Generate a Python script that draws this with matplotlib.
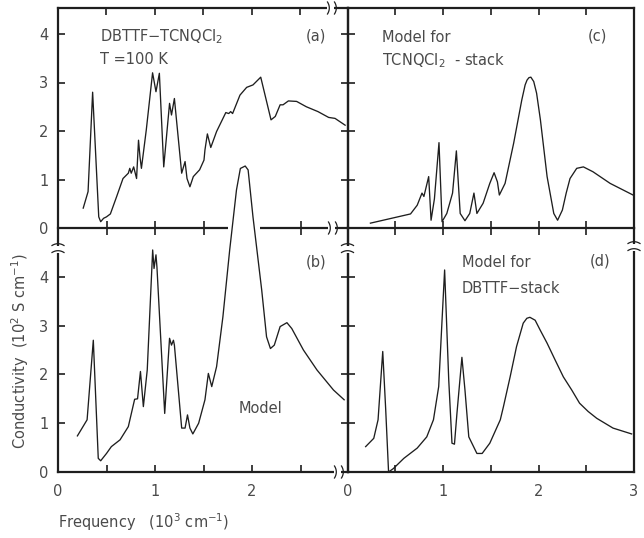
import numpy as np
import matplotlib
matplotlib.use("Agg")
import matplotlib.pyplot as plt
from matplotlib.patches import Rectangle

plt.rcParams['font.family'] = ['DejaVu Sans']
plt.rcParams['mathtext.default'] = 'regular'

# ---------------- data (frequency in 10^3 cm^-1, conductivity in 10^2 S/cm)
a_freq = [0.26, 0.31, 0.357, 0.42, 0.44, 0.47, 0.50, 0.54, 0.605, 0.67, 0.725, 0.74, 0.755, 0.78,
          0.81, 0.83, 0.845, 0.86, 0.91, 0.975, 1.01, 1.045, 1.09, 1.15, 1.17, 1.20, 1.275, 1.31,
          1.33, 1.36, 1.395, 1.46, 1.505, 1.515, 1.54, 1.575, 1.635, 1.73, 1.76, 1.78, 1.80, 1.876,
          1.945, 2.01, 2.09, 2.196, 2.24, 2.29, 2.32, 2.375, 2.46, 2.56, 2.68, 2.79, 2.856, 2.96]
a_cond = [0.41, 0.75, 2.80, 0.23, 0.13, 0.20, 0.23, 0.29, 0.65, 1.02, 1.13, 1.23, 1.13, 1.26,
          1.02, 1.81, 1.47, 1.23, 2.02, 3.20, 2.81, 3.19, 1.26, 2.57, 2.33, 2.67, 1.13, 1.37,
          1.02, 0.85, 1.06, 1.20, 1.40, 1.61, 1.94, 1.66, 1.99, 2.38, 2.36, 2.40, 2.36, 2.74,
          2.90, 2.95, 3.11, 2.23, 2.30, 2.54, 2.54, 2.62, 2.61, 2.50, 2.40, 2.28, 2.26, 2.12]

b_freq = [0.20, 0.30, 0.364, 0.415, 0.44, 0.50, 0.55, 0.64, 0.725, 0.79, 0.82, 0.85, 0.88, 0.92,
          0.976, 0.99, 1.01, 1.02, 1.10, 1.15, 1.17, 1.19, 1.20, 1.275, 1.31, 1.335, 1.36, 1.39,
          1.45, 1.515, 1.55, 1.585, 1.635, 1.70, 1.77, 1.84, 1.88, 1.93, 1.96, 2.01, 2.10, 2.15,
          2.19, 2.23, 2.29, 2.36, 2.41, 2.53, 2.67, 2.84, 2.95]
b_cond = [0.74, 1.07, 2.70, 0.28, 0.23, 0.38, 0.52, 0.66, 0.93, 1.49, 1.50, 2.06, 1.34, 2.09,
          4.55, 4.17, 4.45, 4.20, 1.20, 2.74, 2.60, 2.70, 2.60, 0.90, 0.90, 1.17, 0.90, 0.78,
          1.00, 1.48, 2.02, 1.75, 2.16, 3.18, 4.55, 5.78, 6.22, 6.27, 6.19, 5.23, 3.73, 2.77,
          2.53, 2.60, 2.98, 3.06, 2.94, 2.50, 2.09, 1.68, 1.48]

c_freq = [0.24, 0.66, 0.73, 0.78, 0.80, 0.85, 0.875, 0.91, 0.958, 0.99, 1.04, 1.10, 1.14, 1.18,
          1.23, 1.28, 1.324, 1.355, 1.42, 1.49, 1.535, 1.57, 1.59, 1.65, 1.74, 1.825, 1.86, 1.88,
          1.90, 1.92, 1.95, 1.98, 2.02, 2.09, 2.16, 2.20, 2.25, 2.29, 2.33, 2.40, 2.47, 2.57,
          2.75, 2.99]
c_cond = [0.10, 0.29, 0.47, 0.72, 0.65, 1.06, 0.16, 0.60, 1.76, 0.13, 0.30, 0.72, 1.59, 0.30,
          0.15, 0.30, 0.72, 0.30, 0.51, 0.92, 1.14, 0.95, 0.68, 0.92, 1.75, 2.64, 2.95, 3.05,
          3.10, 3.11, 3.02, 2.78, 2.23, 1.06, 0.30, 0.16, 0.37, 0.72, 1.02, 1.23, 1.26, 1.16,
          0.92, 0.68]

d_freq = [0.19, 0.275, 0.32, 0.369, 0.40, 0.43, 0.48, 0.59, 0.73, 0.83, 0.90, 0.955, 0.99, 1.017,
          1.06, 1.094, 1.12, 1.146, 1.198, 1.23, 1.27, 1.355, 1.41, 1.49, 1.60, 1.633, 1.703, 1.77,
          1.84, 1.878, 1.91, 1.965, 2.017, 2.09, 2.173, 2.26, 2.348, 2.43, 2.52, 2.61, 2.78, 2.975]
d_cond = [0.52, 0.69, 1.07, 2.47, 1.28, 0.00, 0.07, 0.28, 0.49, 0.72, 1.07, 1.75, 3.11, 4.14,
          1.89, 0.59, 0.57, 1.20, 2.35, 1.68, 0.72, 0.38, 0.38, 0.59, 1.07, 1.34, 1.95, 2.57,
          3.05, 3.15, 3.17, 3.11, 2.91, 2.64, 2.30, 1.95, 1.68, 1.41, 1.24, 1.10, 0.90, 0.78]

y_ticks = [0, 1, 2, 3, 4]
x_ticks_left = [0, 0.5, 1, 1.5, 2, 2.5]
x_labels_left = ['0', '', '1', '', '2', '']
x_ticks_right = [0, 0.5, 1, 1.5, 2, 2.5, 3]
x_labels_right = ['0', '', '1', '', '2', '', '3']

# ---------------- style
LINE = '#1e1e1e'
TEXT = '#4a4a4a'
SPINE_W = 1.6
FS = 10.5
TL = 5

W, H = 644, 538
fig = plt.figure(figsize=(W / 100, H / 100), dpi=100)
fig.patch.set_facecolor('white')

def fx(px):
    return px / W

def fy(py):
    return 1 - py / H

xl0, xl1, xr1 = 58, 347.5, 634
yb, ym, yt = 472, 228, 8

ax_b = fig.add_axes([fx(xl0), fy(yb), fx(xl1 - xl0), (yb - ym) / H])
ax_a = fig.add_axes([fx(xl0), fy(ym), fx(xl1 - xl0), (ym - yt) / H])
ax_d = fig.add_axes([fx(xl1), fy(yb), fx(xr1 - xl1), (yb - ym) / H])
ax_c = fig.add_axes([fx(xl1), fy(ym), fx(xr1 - xl1), (ym - yt) / H])

left_xmax = (xl1 - xl0) / 97.0
for ax in (ax_a, ax_b):
    ax.set_xlim(0, left_xmax)
for ax in (ax_c, ax_d):
    ax.set_xlim(0, 3.0)
for ax in (ax_a, ax_c):
    ax.set_ylim(0, (ym - yt) / 48.5)
for ax in (ax_b, ax_d):
    ax.set_ylim(0, 5.0)

for ax in (ax_a, ax_b, ax_c, ax_d):
    ax.patch.set_visible(False)
    for s in ax.spines.values():
        s.set_linewidth(SPINE_W)
        s.set_color(LINE)
    ax.tick_params(direction='in', length=TL, width=1.2, color=LINE,
                   labelsize=FS, labelcolor=TEXT)

# ---- curves
ax_a.plot(a_freq, a_cond, color=LINE, lw=0.95)
ax_b.plot(b_freq, b_cond, color=LINE, lw=0.95, clip_on=False, zorder=5)
ax_c.plot(c_freq, c_cond, color=LINE, lw=0.95)
ax_d.plot(d_freq, d_cond, color=LINE, lw=0.95)

# ---- panel (a)
ax_a.spines['bottom'].set_visible(False)
ax_a.plot([0, 1.755], [0, 0], color=LINE, lw=SPINE_W, clip_on=False, solid_capstyle='butt')
ax_a.plot([2.08, left_xmax], [0, 0], color=LINE, lw=SPINE_W, clip_on=False, solid_capstyle='butt')
ax_a.set_xticks([0.5, 1, 1.5, 2.5])
ax_a.tick_params(axis='x', bottom=True, top=False, labelbottom=False,
                 direction='inout', length=2 * TL)
sec = ax_a.secondary_xaxis('top')
sec.set_xticks([0.5, 1, 1.5, 2, 2.5])
sec.tick_params(direction='in', length=TL, width=1.2, color=LINE, labeltop=False)
sec.spines['top'].set_visible(False)
ax_a.set_yticks(y_ticks)
ax_a.tick_params(axis='y', left=True, right=True, labelleft=True, pad=7)

# ---- panel (b)
ax_b.spines['top'].set_visible(False)
ax_b.set_xticks(x_ticks_left)
ax_b.set_xticklabels(x_labels_left)
ax_b.tick_params(axis='x', top=False, bottom=True, pad=9)
ax_b.set_yticks(y_ticks)
ax_b.tick_params(axis='y', left=True, right=True, labelleft=True, pad=7)

# ---- panel (c)
ax_c.set_xticks([0.5, 1, 1.5, 2, 2.5])
ax_c.tick_params(axis='x', top=True, bottom=True, labelbottom=False)
ax_c.set_yticks(y_ticks)
ax_c.tick_params(axis='y', left=True, right=False, labelleft=False)
ax_c.spines['bottom'].set_visible(False)

# ---- panel (d)
ax_d.set_xticks(x_ticks_right)
ax_d.set_xticklabels(x_labels_right)
ax_d.tick_params(axis='x', top=True, bottom=True, pad=9)
ax_d.set_yticks(y_ticks)
ax_d.tick_params(axis='y', left=True, right=False, labelleft=False)

# ---- texts
tk = dict(color=TEXT, fontsize=FS)
ax_a.text(0.43, 3.84, 'DBTTF\u2212TCNQCl$_2$', ha='left', va='baseline', **tk)
ax_a.text(0.43, 3.39, 'T =100 K', ha='left', va='baseline', **tk)
ax_a.text(2.55, 3.96, '(a)', ha='left', va='center', **tk)
ax_b.text(2.55, 4.30, '(b)', ha='left', va='center', **tk)
ax_b.text(1.86, 1.21, 'Model', ha='left', va='baseline', **tk)
ax_c.text(0.366, 3.84, 'Model for', ha='left', va='baseline', **tk)
ax_c.text(0.366, 3.36, 'TCNQCl$_2$  - stack', ha='left', va='baseline', **tk)
ax_c.text(2.52, 3.96, '(c)', ha='left', va='center', **tk)
ax_d.text(1.20, 4.20, 'Model for', ha='left', va='baseline', **tk)
ax_d.text(1.20, 3.67, 'DBTTF\u2212stack', ha='left', va='baseline', **tk)
ax_d.text(2.54, 4.33, '(d)', ha='left', va='center', **tk)

fig.text(fx(20), fy(351), 'Conductivity  (10$^2$ S cm$^{-1}$)', rotation=90,
         ha='center', va='center', **tk)
fig.text(fx(58), fy(522), 'Frequency   (10$^3$ cm$^{-1}$)', ha='left', va='center', **tk)

# ---- axis break marks (pixel overlay)
ov = fig.add_axes([0, 0, 1, 1], zorder=10)
ov.set_xlim(0, W)
ov.set_ylim(H, 0)
ov.axis('off')
t = np.linspace(-1, 1, 25)

def hbreak(xc, yc):
    ov.add_patch(Rectangle((xc - 3.5, yc - 2.5), 7, 5, color='white', lw=0))
    for dx in (-3.5, 3.5):
        ov.plot(xc + dx + 1.8 * (1 - t ** 2), yc + 6 * t, color=LINE, lw=0.9)

def vbreak(xc, yc):
    ov.add_patch(Rectangle((xc - 2.5, yc - 3.5), 5, 7, color='white', lw=0))
    for dy in (-3.5, 3.5):
        ov.plot(xc + 6 * t, yc + dy - 1.8 * (1 - t ** 2), color=LINE, lw=0.9)

hbreak(331, yt)
hbreak(332, ym)
hbreak(338, yb)
vbreak(xl0, 249)
vbreak(xl1, 249)
vbreak(xr1, 247)

fig.savefig('out.png', dpi=100, facecolor='white')
